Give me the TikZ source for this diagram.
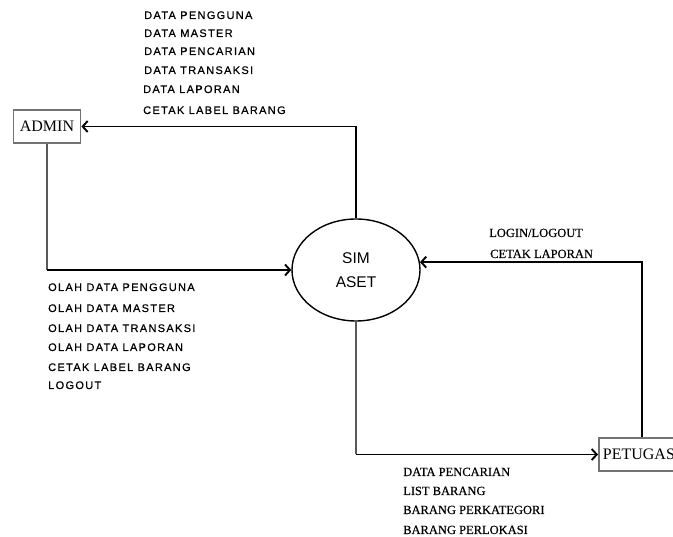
\documentclass[tikz,border=0pt]{standalone}
\usepackage{fontspec}
\setmainfont{Liberation Serif}
\newfontfamily\lblsans[LetterSpace=12,FakeBold=0.5]{Liberation Sans}
\newfontfamily\lblserif[FakeBold=0.4]{Liberation Serif}
\newfontfamily\procsans{Liberation Sans}
\usetikzlibrary{arrows.meta,shapes.geometric}
\begin{document}
\begin{tikzpicture}[x=1pt,y=-1pt,
  ent/.style={draw=black!55, line width=1.8pt, minimum height=33pt, inner xsep=4pt, inner ysep=2pt, font=\fontsize{16}{18}\selectfont},
  proc/.style={ellipse, draw, line width=1.4pt, minimum width=128pt, minimum height=102pt, inner sep=0pt, align=center, font=\procsans\fontsize{15.5}{24}\selectfont},
  flow/.style={line width=1.9pt, -{Straight Barb[length=5pt,width=11pt]}},
  thinl/.style={line width=1.1pt, draw=black!65},
  sl/.style={anchor=base west, inner sep=0pt, font=\lblsans\fontsize{11}{13}\selectfont},
  rl/.style={anchor=base west, inner sep=0pt, font=\lblserif\fontsize{12.5}{14}\selectfont}]
\clip (0,0) rectangle (673,537);
\fill[white] (0,0) rectangle (673,537);
% nodes
\node[ent, minimum width=67pt] (admin) at (47,126.5) {ADMIN};
\node[proc] (sim) at (356,270) {SIM\\ASET};
\node[ent, anchor=west] (petugas) at (598,454.5) {PETUGAS};
% connectors
\draw[flow] (sim.north) |- (admin.east);
\coordinate (c2) at (admin.south |- sim.west);
\draw[thinl] (admin.south) -- (c2);
\draw[flow] ([xshift=-0.5pt]c2) -- (sim.west);
\coordinate (c3) at ([xshift=3pt]petugas.north);
\draw[flow] (c3) |- (sim.7);
\coordinate (c4) at (sim.south |- petugas.west);
\draw[thinl] (sim.south) -- (c4);
\draw[flow] ([xshift=-0.5pt]c4) -- (petugas.west);
% labels: admin outputs
\node[sl] (a1) at (144,19) {DATA PENGGUNA};
\node[sl] (a2) at (144,37) {DATA MASTER};
\node[sl] (a3) at (144,55) {DATA PENCARIAN};
\node[sl] (a4) at (144,74) {DATA TRANSAKSI};
\node[sl] (a5) at (143,93) {DATA LAPORAN};
\node[sl] (a6) at (143,114) {CETAK LABEL BARANG};
% admin inputs
\node[sl] (b1) at (48,291) {OLAH DATA PENGGUNA};
\node[sl] (b2) at (48,312) {OLAH DATA MASTER};
\node[sl] (b3) at (48,332) {OLAH DATA TRANSAKSI};
\node[sl] (b4) at (48,351) {OLAH DATA LAPORAN};
\node[sl] (b5) at (48,371) {CETAK LABEL BARANG};
\node[sl] (b6) at (48,389) {LOGOUT};
% petugas inputs
\node[rl] (p1) at (489,237) {LOGIN/LOGOUT};
\node[rl] (p2) at (490,258) {CETAK LAPORAN};
% petugas outputs
\node[rl] (q1) at (403,476) {DATA PENCARIAN};
\node[rl] (q2) at (403,495) {LIST BARANG};
\node[rl] (q3) at (403,514) {BARANG PERKATEGORI};
\node[rl] (q4) at (403,534) {BARANG PERLOKASI};
\end{tikzpicture}
\end{document}
